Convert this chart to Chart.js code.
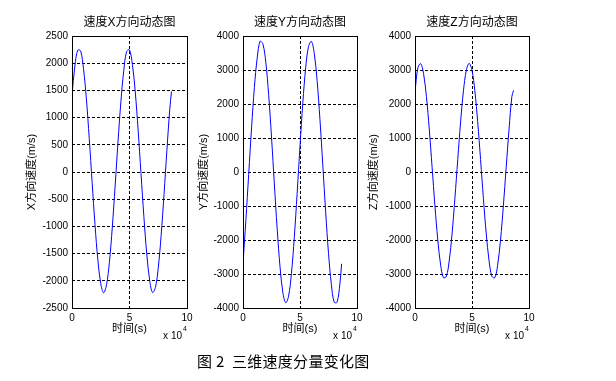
<!DOCTYPE html>
<html>
<head>
<meta charset="utf-8">
<script src="https://cdn.jsdelivr.net/npm/chart.js@4"></script>
<style>
  body { margin: 0; background: #fff; width: 616px; height: 381px; position: relative; overflow: hidden; }
  canvas { position: absolute; top: 0; }
  #caption {
    position: absolute; left: 197px; top: 352px;
    font: 15px "Noto Sans CJK SC", sans-serif; line-height: 17px;
    letter-spacing: 0.3px; color: #000; white-space: pre;
  }
</style>
</head>
<body>
<canvas id="chartX" width="200" height="345" style="left:0px"></canvas>
<canvas id="chartY" width="180" height="345" style="left:190px"></canvas>
<canvas id="chartZ" width="180" height="345" style="left:362px"></canvas>
<div id="caption">图 2  三维速度分量变化图</div>
<script>
// tempo in unità di 10^4 s
const tempo = [0, 0.25, 0.5, 0.75, 1, 1.25, 1.5, 1.75, 2, 2.25, 2.5, 2.75, 3, 3.25, 3.5, 3.75,
  4, 4.25, 4.5, 4.75, 5, 5.25, 5.5, 5.75, 6, 6.25, 6.5, 6.75, 7, 7.25, 7.5, 7.75, 8, 8.25, 8.5, 8.65];

const velX = [1420, 1949, 2240, 2225, 1898, 1345, 615, -191, -970, -1619, -2052, -2220, -2074, -1664, -1028, -257,
  553, 1291, 1862, 2215, 2245, 1980, 1472, 771, -29, -822, -1505, -1985, -2215, -2125, -1764, -1169, -417, 392, 1153, 1480];

const velY = [-2700, -1424, -67, 1297, 2491, 3369, 3845, 3760, 3226, 2274, 1029, -349, -1682, -2798, -3552, -3848,
  -3650, -2980, -1925, -622, 761, 2046, 3067, 3692, 3840, 3492, 2694, 1547, 201, -1170, -2391, -3305, -3830, -3830, -3293, -2700];

const velZ = [2350, 3062, 3186, 2894, 2225, 1264, 141, -999, -2004, -2739, -3110, -3069, -2619, -1820, -777, 371,
  1474, 2387, 2986, 3195, 2986, 2387, 1474, 371, -777, -1820, -2619, -3069, -3110, -2739, -2004, -999, 141, 1264, 2225, 2400];

const tickX = [0, 5, 10];
const fam = '"Liberation Sans", "Noto Sans CJK SC", sans-serif';

// cornice del grafico e scritta "x 10^4"
const cornice = {
  id: 'cornice',
  afterDraw(chart) {
    const { ctx, chartArea: a } = chart;
    ctx.save();
    ctx.setLineDash([]);
    ctx.strokeStyle = '#000';
    ctx.lineWidth = 1;
    ctx.strokeRect(a.left + 0.5, a.top + 0.5, a.right - a.left, a.bottom - a.top);
    ctx.fillStyle = '#000';
    ctx.font = '10px ' + fam;
    ctx.textAlign = 'right';
    ctx.textBaseline = 'middle';
    ctx.fillText('x 10', a.right - 5, a.bottom + 28);
    ctx.font = '7px ' + fam;
    ctx.textAlign = 'left';
    ctx.fillText('4', a.right - 4, a.bottom + 21);
    ctx.restore();
  }
};

function creaGrafico(id, titolo, etichettaY, valori, minY, maxY, passoY, larghezzaY, offsetTitoloY) {
  const ctx = document.getElementById(id).getContext('2d');
  return new Chart(ctx, {
    type: 'line',
    data: {
      datasets: [{
        data: tempo.map((t, i) => ({ x: t, y: valori[i] })),
        borderColor: '#0000ff',
        borderWidth: 1,
        pointRadius: 0,
        tension: 0.35,
        fill: false
      }]
    },
    options: {
      responsive: false,
      animation: false,
      layout: { padding: { left: 0, right: 13, top: 0, bottom: 0 } },
      plugins: {
        legend: { display: false },
        tooltip: { enabled: false },
        title: {
          display: true,
          text: titolo,
          fullSize: false,
          color: '#000',
          font: { family: fam, size: 12, weight: 'normal', lineHeight: 1.2 },
          padding: { top: 15.6, bottom: 6 }
        }
      },
      scales: {
        x: {
          type: 'linear',
          min: 0,
          max: 10,
          afterBuildTicks: s => { s.ticks = tickX.map(v => ({ value: v })); },
          afterFit: s => { s.height = 37; },
          ticks: { color: '#000', font: { family: fam, size: 10 }, padding: 4, autoSkip: false, maxRotation: 0,
            callback: v => String(v) },
          grid: { color: '#000', lineWidth: 1, drawTicks: false },
          border: { display: false, dash: [3, 2] },
          title: {
            display: true, text: '时间(s)', color: '#000',
            font: { family: fam, size: 11, lineHeight: 1.2 },
            padding: { top: 0, bottom: 9.4 }
          }
        },
        y: {
          min: minY,
          max: maxY,
          afterFit: s => { s.width = larghezzaY; },
          ticks: { stepSize: passoY, color: '#000', font: { family: fam, size: 10 }, padding: 4,
            callback: v => String(v) },
          grid: { color: '#000', lineWidth: 1, drawTicks: false },
          border: { display: false, dash: [3, 2] },
          title: {
            display: true, text: etichettaY, color: '#000',
            font: { family: fam, size: 11, lineHeight: 1.2 },
            padding: { top: offsetTitoloY, bottom: 0 }
          }
        }
      }
    },
    plugins: [cornice]
  });
}

creaGrafico('chartX', '速度X方向动态图', 'X方向速度(m/s)', velX, -2500, 2500, 500, 72, 25.4);
creaGrafico('chartY', '速度Y方向动态图', 'Y方向速度(m/s)', velY, -4000, 4000, 1000, 53, 7.4);
creaGrafico('chartZ', '速度Z方向动态图', 'Z方向速度(m/s)', velZ, -4000, 4000, 1000, 53, 5.4);
</script>
</body>
</html>
